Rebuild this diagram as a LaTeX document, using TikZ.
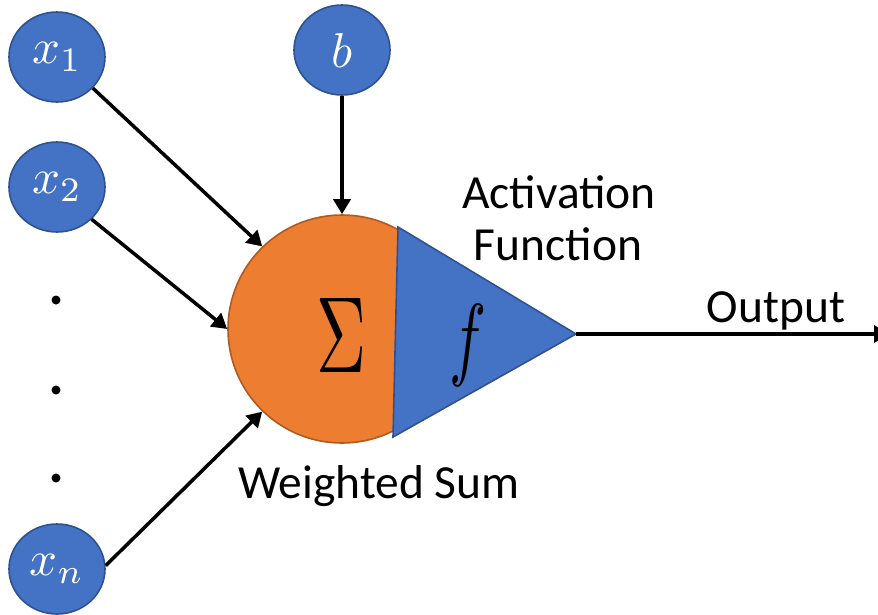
\documentclass[tikz,border=0pt]{standalone}
\usepackage{fontspec}
\usepackage{graphicx}
\setmainfont{Carlito}
\usetikzlibrary{arrows.meta,shapes.geometric}
\definecolor{nblue}{HTML}{4472C4}
\definecolor{nblueb}{HTML}{2F528F}
\definecolor{norange}{HTML}{ED7D31}
\definecolor{norangeb}{HTML}{AE5A21}
\newcommand{\nodemath}[1]{\scalebox{4.9}{$#1$}}
\tikzset{
  inp/.style={ellipse, draw=nblueb, fill=nblue, line width=1.6pt, minimum width=96pt, minimum height=90pt, inner sep=0pt, text=white},
  conn/.style={line width=3.5pt, -{Triangle[length=15pt,width=17pt]}},
  lbl/.style={font=\fontsize{47.5}{56}\selectfont, anchor=base, inner sep=0pt},
  dot/.style={circle, fill=black, minimum size=9pt, inner sep=0pt}
}
\begin{document}
\begin{tikzpicture}[x=1pt,y=-1pt]
\useasboundingbox (0,0) rectangle (878,614);
% summation circle
\node[circle, draw=norangeb, fill=norange, line width=1.6pt, minimum size=228pt, inner sep=0pt] (sum) at (342,329) {};
% activation triangle
\coordinate (tA) at (398,227);
\coordinate (tB) at (393,437);
\coordinate (apex) at (576,334);
\draw[draw=nblueb, fill=nblue, line width=1.6pt, line join=miter] (tA) -- (apex) -- (tB) -- cycle;
\node (sigma) at (342,335) {\resizebox{50pt}{74pt}{$\Sigma$}};
\node (fn) at (468,345) {\resizebox{37pt}{64pt}{$f$}};
% inputs
\node[inp] (x1) at (57,57) {\nodemath{x_1}};
\node[inp] (x2) at (57,187) {\nodemath{x_2}};
\node[inp] (xn) at (57,569) {\nodemath{x_n}};
\node[inp] (b) at (342,50) {\nodemath{b}};
% dots
\node[dot] (d1) at (56,300) {};
\node[dot] (d2) at (56,390) {};
\node[dot] (d3) at (56,478) {};
% connectors
\draw[conn] (x1.-41) -- (sum.134);
\draw[conn] (x2.-43) -- (sum.180);
\draw[conn] (xn.4) -- (sum.226);
\draw[conn] (b.south) -- (sum.north);
\coordinate (outend) at (889,334);
\draw[conn] (apex) -- (outend);
% labels
\node[lbl] (act1) at (559,208) {Activation};
\node[lbl] (act2) at (558,260) {Function};
\node[lbl] (outl) at (776,322) {Output};
\node[lbl] (wsum) at (379,498) {Weighted Sum};
\end{tikzpicture}
\end{document}
